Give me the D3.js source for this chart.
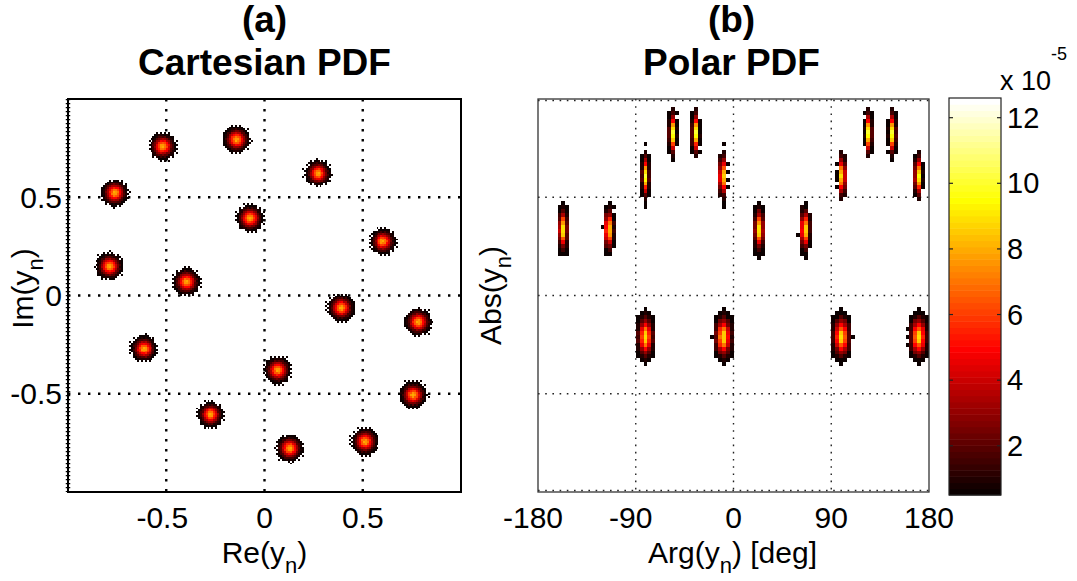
<!DOCTYPE html>
<html>
<head>
<meta charset="utf-8">
<script src="https://cdn.jsdelivr.net/npm/d3@7"></script>
<style>
  body { margin: 0; background: #fff; }
  text { font-family: "Liberation Sans", Arial, Helvetica, sans-serif; fill: #000; }
</style>
</head>
<body>
<svg id="fig" width="1077" height="581"></svg>
<script>
// ---- data -------------------------------------------------------------
// Constellation cluster centres, Cartesian view (Re, Im)
const reVals = [-0.516, -0.142, 0.273, -0.761, -0.075, 0.603, -0.787, -0.397,
                 0.391,  0.781, -0.614, 0.069,  0.756, -0.275, 0.129,  0.510];
const imVals = [ 0.758,  0.792, 0.623,  0.521,  0.394,  0.275, 0.148,  0.071,
                -0.064, -0.135, -0.271, -0.381, -0.505, -0.607, -0.777, -0.743];
// peak density of each Cartesian cluster (colour units)
const cartPeak = [8, 8, 8, 8, 8, 8, 8, 8, 8, 8, 8, 8, 8, 8, 8, 8];

// Same clusters in the polar view (Arg in degrees, Abs)
const argDeg  = [-81, -9.6, 99.4, 170.6, -156.9, -114.5, 23.6, 65.7,
                 -81, -10.1, 100, 170.3, -56.2, -34.7, 124.6, 146.1];
const absVals = [0.395, 0.395, 0.395, 0.395, 0.668, 0.668, 0.668, 0.668,
                 0.804, 0.804, 0.804, 0.804, 0.913, 0.913, 0.913, 0.913];
// peak density of each polar cluster (x1e-5)
const polarPeak = [9, 9, 9, 9, 9.5, 9.5, 9.5, 9.5,
                   10, 10, 10, 10, 10.5, 10.5, 10.5, 10.5];

// additive noise standard deviation (per quadrature)
const noiseStd = 0.028;

// axis ticks
const cartTicks = [-0.5, 0, 0.5];
const argTicks  = [-180, -90, 0, 90, 180];
const absGrid   = [0, 0.25, 0.5, 0.75, 1];
const cbarTicks = [2, 4, 6, 8, 10, 12];
const colourRange = [0.5, 12.6];   // colour limits, x1e-5; lower limit = one sample

// histogram bin sizes
const cartBin = 0.01;
const argBin = 3.6;
const absBin = 0.01;

// ---- colour map (64-level "hot") -------------------------------------
const nLev = 64, nR = 24;
const hotMap = d3.range(nLev).map(i => {
  const r = i < nR ? (i + 1) / nR : 1;
  const g = i < nR ? 0 : (i < 2 * nR ? (i - nR + 1) / nR : 1);
  const b = i < 2 * nR ? 0 : (i - 2 * nR + 1) / (nLev - 2 * nR);
  return d3.rgb(r * 255, g * 255, b * 255).formatHex();
});
const colourIdx = d3.scaleQuantize().domain(colourRange).range(d3.range(nLev));
const hot = v => hotMap[colourIdx(Math.min(Math.max(v, colourRange[0]), colourRange[1]))];

const svg = d3.select("#fig");
svg.append("rect").attr("width", 1077).attr("height", 581).attr("fill", "#fff");

// ---- helpers ----------------------------------------------------------
const FS = 30, FSUB = 22;
function subLabel(g, main, sub, tail) {
  const t = g.append("text").attr("font-size", FS);
  t.append("tspan").text(main);
  t.append("tspan").attr("font-size", FSUB).attr("dy", 10).text(sub);
  t.append("tspan").attr("dy", -10).text(tail);
  return t;
}
function title(cx, l1, l2) {
  svg.append("text").attr("x", cx).attr("y", 32).attr("text-anchor", "middle")
    .attr("font-size", 37).attr("font-weight", "bold").text(l1);
  svg.append("text").attr("x", cx).attr("y", 75).attr("text-anchor", "middle")
    .attr("font-size", 37).attr("font-weight", "bold").text(l2);
}
// 4x4 ordered-dither offsets used to turn expected bin counts into whole counts
// (offsets stay below 1 so that empty bins remain empty)
const bayer = [[0, 8, 2, 10], [12, 4, 14, 6], [3, 11, 1, 9], [15, 7, 13, 5]];
const dith = (i, j) => (bayer[((i % 4) + 4) % 4][((j % 4) + 4) % 4] + 0.5) / 16 * 1.1 - 0.3;

// binned Gaussian cluster: expected counts per bin, as whole samples
function clusterBins(cx, cy, sx, sy, bx, by, peak, x0, y0, xLim) {
  const out = [];
  const unit = colourRange[0];
  const i0 = Math.floor((cx - 4 * sx - x0) / bx), i1 = Math.ceil((cx + 4 * sx - x0) / bx);
  const j0 = Math.floor((cy - 4 * sy - y0) / by), j1 = Math.ceil((cy + 4 * sy - y0) / by);
  for (let i = i0; i <= i1; i++) {
    const xl = x0 + i * bx, xc = xl + bx / 2;
    if (xLim && (xl < xLim[0] - 1e-9 || xl + bx > xLim[1] + 1e-9)) continue;
    for (let j = j0; j <= j1; j++) {
      const yl = y0 + j * by, yc = yl + by / 2;
      const e = peak / unit * Math.exp(-0.5 * (((xc - cx) / sx) ** 2 + ((yc - cy) / sy) ** 2));
      const n = Math.floor(e + dith(i, j));
      if (n >= 1) out.push({ x0: xl, x1: xl + bx, y0: yl, y1: yl + by, v: n * unit });
    }
  }
  return out;
}

// ---- panel (a): Cartesian PDF ----------------------------------------
const A = { l: 68, r: 461, t: 99, b: 492 };
const xa = d3.scaleLinear().domain([-1, 1]).range([A.l, A.r]);
const ya = d3.scaleLinear().domain([-1, 1]).range([A.b, A.t]);
const ga = svg.append("g");

// grid
ga.selectAll(".gx").data(cartTicks).join("line")
  .attr("x1", d => xa(d)).attr("x2", d => xa(d)).attr("y1", A.t).attr("y2", A.b)
  .attr("stroke", "#000").attr("stroke-width", 2.4).attr("stroke-dasharray", "2.4 7.6");
ga.selectAll(".gy").data(cartTicks).join("line")
  .attr("y1", d => ya(d)).attr("y2", d => ya(d)).attr("x1", A.l).attr("x2", A.r)
  .attr("stroke", "#000").attr("stroke-width", 2.4).attr("stroke-dasharray", "2.4 7.6");
ga.append("line").attr("x1", A.l).attr("x2", A.l).attr("y1", A.t).attr("y2", A.b)
  .attr("stroke", "#000").attr("stroke-width", 4.5).attr("stroke-dasharray", "1.3 2.7");

// clusters
const cartCells = reVals.flatMap((re, k) =>
  clusterBins(re, imVals[k], noiseStd, noiseStd, cartBin, cartBin, cartPeak[k], -1, -1));
ga.append("g").selectAll("rect").data(cartCells).join("rect")
  .attr("x", d => xa(d.x0)).attr("width", d => xa(d.x1) - xa(d.x0))
  .attr("y", d => ya(d.y1)).attr("height", d => ya(d.y0) - ya(d.y1))
  .attr("fill", d => hot(d.v)).attr("shape-rendering", "crispEdges");

// frame
ga.append("rect").attr("x", A.l).attr("y", A.t).attr("width", A.r - A.l).attr("height", A.b - A.t)
  .attr("fill", "none").attr("stroke", "#000").attr("stroke-width", 2);

// tick labels
ga.selectAll(".xl").data(cartTicks).join("text")
  .attr("x", d => xa(d) + (d < 0 ? -4 : 0)).attr("y", 528).attr("text-anchor", "middle")
  .attr("font-size", FS).text(d => String(d));
ga.selectAll(".yl").data(cartTicks).join("text")
  .attr("x", 62).attr("y", d => ya(d) + 10.5).attr("text-anchor", "end")
  .attr("font-size", FS).text(d => String(d));

subLabel(ga, "Re(y", "n", ")").attr("x", xa(0)).attr("y", 563).attr("text-anchor", "middle");
subLabel(ga, "Im(y", "n", ")").attr("text-anchor", "middle")
  .attr("transform", `translate(33,${(A.t + A.b) / 2 - 7}) rotate(-90)`);
title(xa(0), "(a)", "Cartesian PDF");

// ---- panel (b): Polar PDF --------------------------------------------
const B = { l: 538, r: 929, t: 99, b: 492 };
const xb = d3.scaleLinear().domain([-180, 180]).range([B.l, B.r]);
const yb = d3.scaleLinear().domain([0, 1]).range([B.b, B.t]);
const gb = svg.append("g");

gb.selectAll(".gx").data(argTicks.filter(d => Math.abs(d) < 180)).join("line")
  .attr("x1", d => xb(d)).attr("x2", d => xb(d)).attr("y1", B.t).attr("y2", B.b)
  .attr("stroke", "#222").attr("stroke-width", 1.4).attr("stroke-dasharray", "1.6 5.6");
gb.selectAll(".gy").data(absGrid).join("line")
  .attr("y1", d => yb(d)).attr("y2", d => yb(d)).attr("x1", B.l).attr("x2", B.r)
  .attr("stroke", "#222").attr("stroke-width", 1.4).attr("stroke-dasharray", "1.6 5.6")
  .attr("transform", d => d === 1 ? "translate(0,1.5)" : (d === 0 ? "translate(0,-1.5)" : null));

const polarCells = argDeg.flatMap((a, k) => {
  const r = absVals[k];
  const sA = noiseStd / r * 180 / Math.PI;
  return clusterBins(a, r, sA, noiseStd, argBin, absBin, polarPeak[k], -180, 0, [-180, 180]);
});
gb.append("g").selectAll("rect").data(polarCells).join("rect")
  .attr("x", d => xb(d.x0)).attr("width", d => xb(d.x1) - xb(d.x0))
  .attr("y", d => yb(d.y1)).attr("height", d => yb(d.y0) - yb(d.y1))
  .attr("fill", d => hot(d.v)).attr("shape-rendering", "crispEdges");

gb.append("rect").attr("x", B.l).attr("y", B.t).attr("width", B.r - B.l).attr("height", B.b - B.t)
  .attr("fill", "none").attr("stroke", "#333").attr("stroke-width", 1.3);

gb.selectAll(".xl").data(argTicks).join("text")
  .attr("x", d => xb(d) + (d < 0 ? -5 : 0)).attr("y", 528).attr("text-anchor", "middle")
  .attr("font-size", FS).text(d => String(d));

subLabel(gb, "Arg(y", "n", ") [deg]").attr("x", xb(0) - 1).attr("y", 563).attr("text-anchor", "middle");
subLabel(gb, "Abs(y", "n", ")").attr("text-anchor", "middle")
  .attr("transform", `translate(501,${(B.t + B.b) / 2}) rotate(-90)`);
title(xb(0) - 2, "(b)", "Polar PDF");

// ---- colour bar -------------------------------------------------------
const C = { l: 949, r: 1001, t: 98, b: 495 };
const yc = d3.scaleLinear().domain(colourRange).range([C.b, C.t]);
const gc = svg.append("g");
const step = (colourRange[1] - colourRange[0]) / nLev;
gc.selectAll(".band").data(hotMap).join("rect")
  .attr("x", C.l).attr("width", C.r - C.l)
  .attr("y", (d, i) => yc(colourRange[0] + (i + 1) * step))
  .attr("height", (d, i) => yc(colourRange[0] + i * step) - yc(colourRange[0] + (i + 1) * step) + 0.5)
  .attr("fill", d => d);
gc.append("rect").attr("x", C.l).attr("y", C.t).attr("width", C.r - C.l).attr("height", C.b - C.t)
  .attr("fill", "none").attr("stroke", "#222").attr("stroke-width", 1.2);
gc.selectAll(".tk").data(cbarTicks).join("line")
  .attr("x1", C.r - 4).attr("x2", C.r).attr("y1", d => yc(d)).attr("y2", d => yc(d))
  .attr("stroke", "#222").attr("stroke-width", 1.2);
gc.selectAll(".tkl").data(cbarTicks).join("line")
  .attr("x1", C.l).attr("x2", C.l + 4).attr("y1", d => yc(d)).attr("y2", d => yc(d))
  .attr("stroke", "#222").attr("stroke-width", 1.2);
gc.selectAll(".tl").data(cbarTicks).join("text")
  .attr("x", 1007).attr("y", d => yc(d) + 10).attr("font-size", 29).text(d => d);
const expo = gc.append("text").attr("x", 1000).attr("y", 90).attr("font-size", 27);
expo.append("tspan").text("x 10");
expo.append("tspan").attr("font-size", 18).attr("dy", -30).text("-5");
</script>
</body>
</html>
